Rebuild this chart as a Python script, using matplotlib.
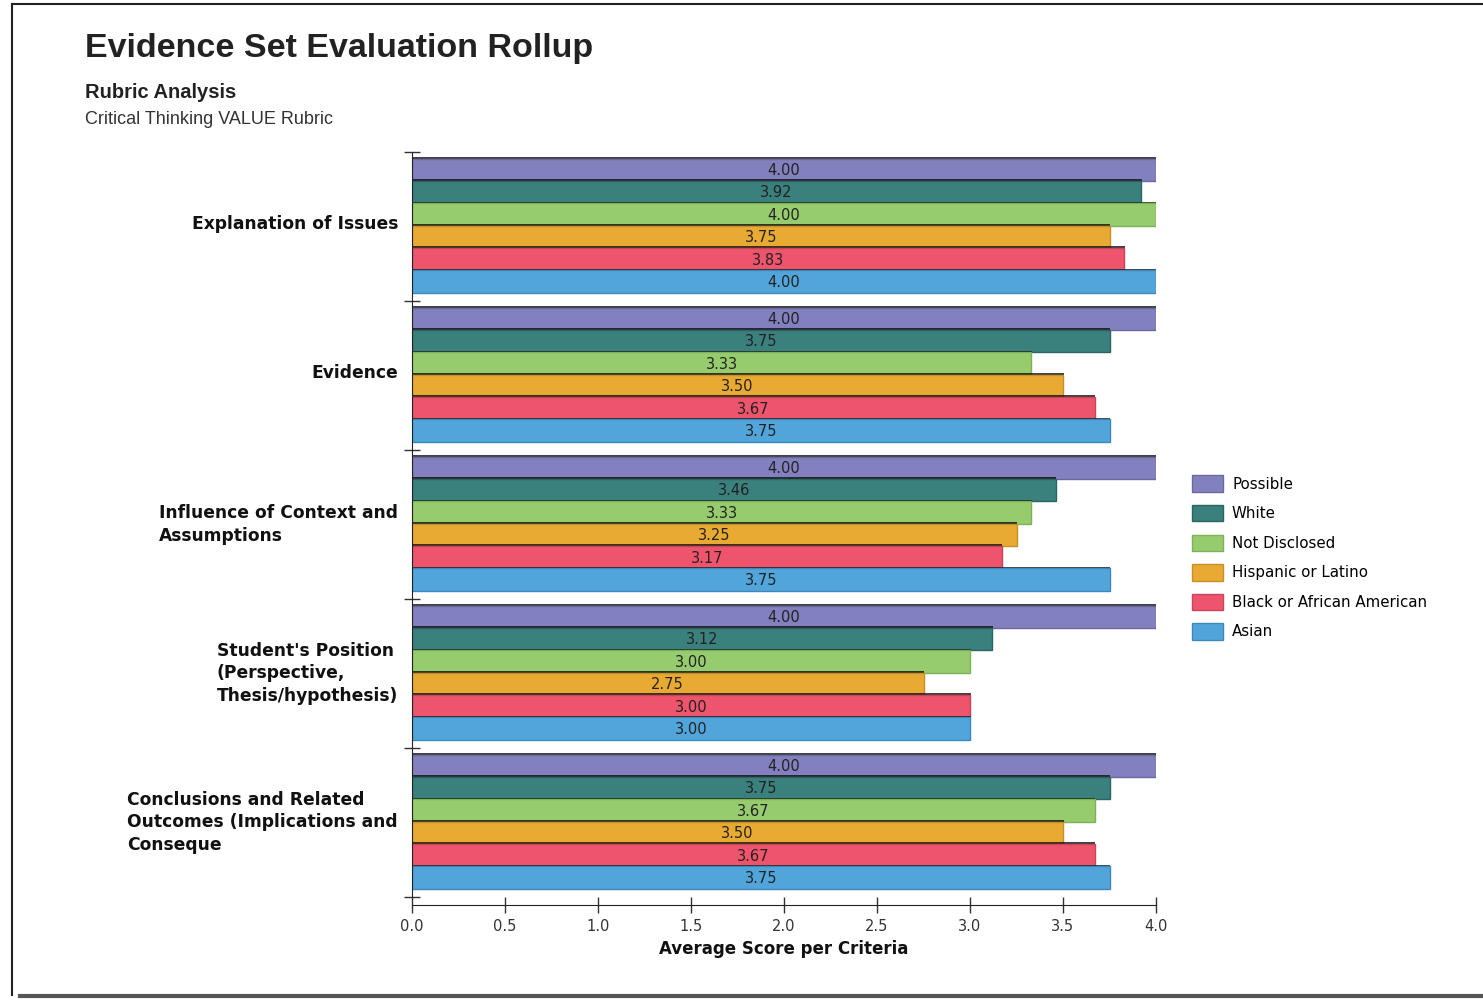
import numpy as np
import matplotlib
matplotlib.use('Agg')
import matplotlib.pyplot as plt
import matplotlib.patheffects as pe
from matplotlib.patches import Patch
from matplotlib.lines import Line2D

# dados
criterios = ['Explanation of Issues',
             'Evidence',
             'Influence of Context and\nAssumptions',
             "Student's Position\n(Perspective,\nThesis/hypothesis)",
             'Conclusions and Related\nOutcomes (Implications and\nConseque']
grupos = ['Possible', 'White', 'Not Disclosed', 'Hispanic or Latino',
          'Black or African American', 'Asian']
possible = [4.00, 4.00, 4.00, 4.00, 4.00]
white = [3.92, 3.75, 3.46, 3.12, 3.75]
not_disclosed = [4.00, 3.33, 3.33, 3.00, 3.67]
hispanic = [3.75, 3.50, 3.25, 2.75, 3.50]
black = [3.83, 3.67, 3.17, 3.00, 3.67]
asian = [4.00, 3.75, 3.75, 3.00, 3.75]
x_ticks = [0.0, 0.5, 1.0, 1.5, 2.0, 2.5, 3.0, 3.5, 4.0]

series = [possible, white, not_disclosed, hispanic, black, asian]
cores = ['#8280BE', '#3A807D', '#96CC6E', '#E9AA34', '#EE556C', '#52A5DA']
bordas = ['#6A68A0', '#2C6461', '#7DB25A', '#C88F25', '#C94458', '#3E88B8']

fig = plt.figure(figsize=(14.83, 10), dpi=100)
ax = fig.add_axes([412 / 1483, 1 - 897 / 1000, (1156 - 412) / 1483, (897 - 152) / 1000])

altura = 0.15
sombra = [pe.SimplePatchShadow(offset=(0.6, 1.2), shadow_rgbFace='#111111', alpha=0.8), pe.Normal()]
for j, valores in enumerate(series):
    ys = np.arange(len(criterios)) + 0.045 + (j + 0.5) * altura
    barras = ax.barh(ys, valores, height=altura, color=cores[j], edgecolor=bordas[j],
                     linewidth=1, label=grupos[j])
    for b in barras:
        b.set_path_effects(sombra)
    for y, v in zip(ys, valores):
        ax.text(v / 2, y + 0.005, f'{v:.2f}', ha='center', va='center',
                fontsize=10.5, color='#222222')

ax.set_xlim(0, 4.0)
ax.set_ylim(len(criterios), 0)

for s in ['top', 'right']:
    ax.spines[s].set_visible(False)
ax.spines['bottom'].set_position(('outward', 5.5))
ax.spines['left'].set_color('#222222')
ax.spines['bottom'].set_color('#222222')

ax.set_xticks(x_ticks)
ax.set_xticklabels([f'{t:.1f}' for t in x_ticks], fontsize=10.5, color='#333333')
ax.tick_params(axis='x', direction='inout', length=11, width=1, color='#333333', pad=4.5)

ax.set_yticks(np.arange(len(criterios) + 1))
ax.set_yticklabels([])
ax.tick_params(axis='y', which='major', direction='inout', length=12, width=1, color='#333333')
ax.set_yticks(np.arange(len(criterios)) + 0.47, minor=True)
ax.set_yticklabels(criterios, minor=True, fontsize=12.3, fontweight='bold',
                   multialignment='left', color='#111111', linespacing=1.35)
ax.tick_params(axis='y', which='minor', length=0, pad=10)

ax.set_xlabel('Average Score per Criteria', fontsize=12, fontweight='bold',
              color='#111111', labelpad=5)

# títulos
fig.text(85 / 1483, 1 - 48 / 1000, 'Evidence Set Evaluation Rollup', fontsize=24.5,
         fontweight='bold', family='Liberation Sans', color='#222222', va='center')
fig.text(85 / 1483, 1 - 92 / 1000, 'Rubric Analysis', fontsize=14.5,
         fontweight='bold', family='Liberation Sans', color='#222222', va='center')
fig.text(85 / 1483, 1 - 119 / 1000, 'Critical Thinking VALUE Rubric', fontsize=13,
         family='Liberation Sans', color='#333333', va='center')

# legenda
handles = [Patch(facecolor=cores[j], edgecolor=bordas[j], label=grupos[j]) for j in range(6)]
fig.legend(handles=handles, loc='upper left', bbox_to_anchor=(1178 / 1483, 1 - 462 / 1000),
           frameon=False, fontsize=10.8, handlelength=2.1, handleheight=1.3,
           labelspacing=0.88, handletextpad=0.6)

# moldura
fig.add_artist(Line2D([12 / 1483, 12 / 1483], [1 - 4 / 1000, 1 - 995 / 1000], color='#222222', lw=1.5))
fig.add_artist(Line2D([12 / 1483, 1], [1 - 4 / 1000, 1 - 4 / 1000], color='#222222', lw=1.5))
fig.add_artist(Line2D([20 / 1483, 1], [1 - 996 / 1000, 1 - 996 / 1000], color='#555555', lw=3))

fig.savefig('out.png', dpi=100, facecolor='white')
